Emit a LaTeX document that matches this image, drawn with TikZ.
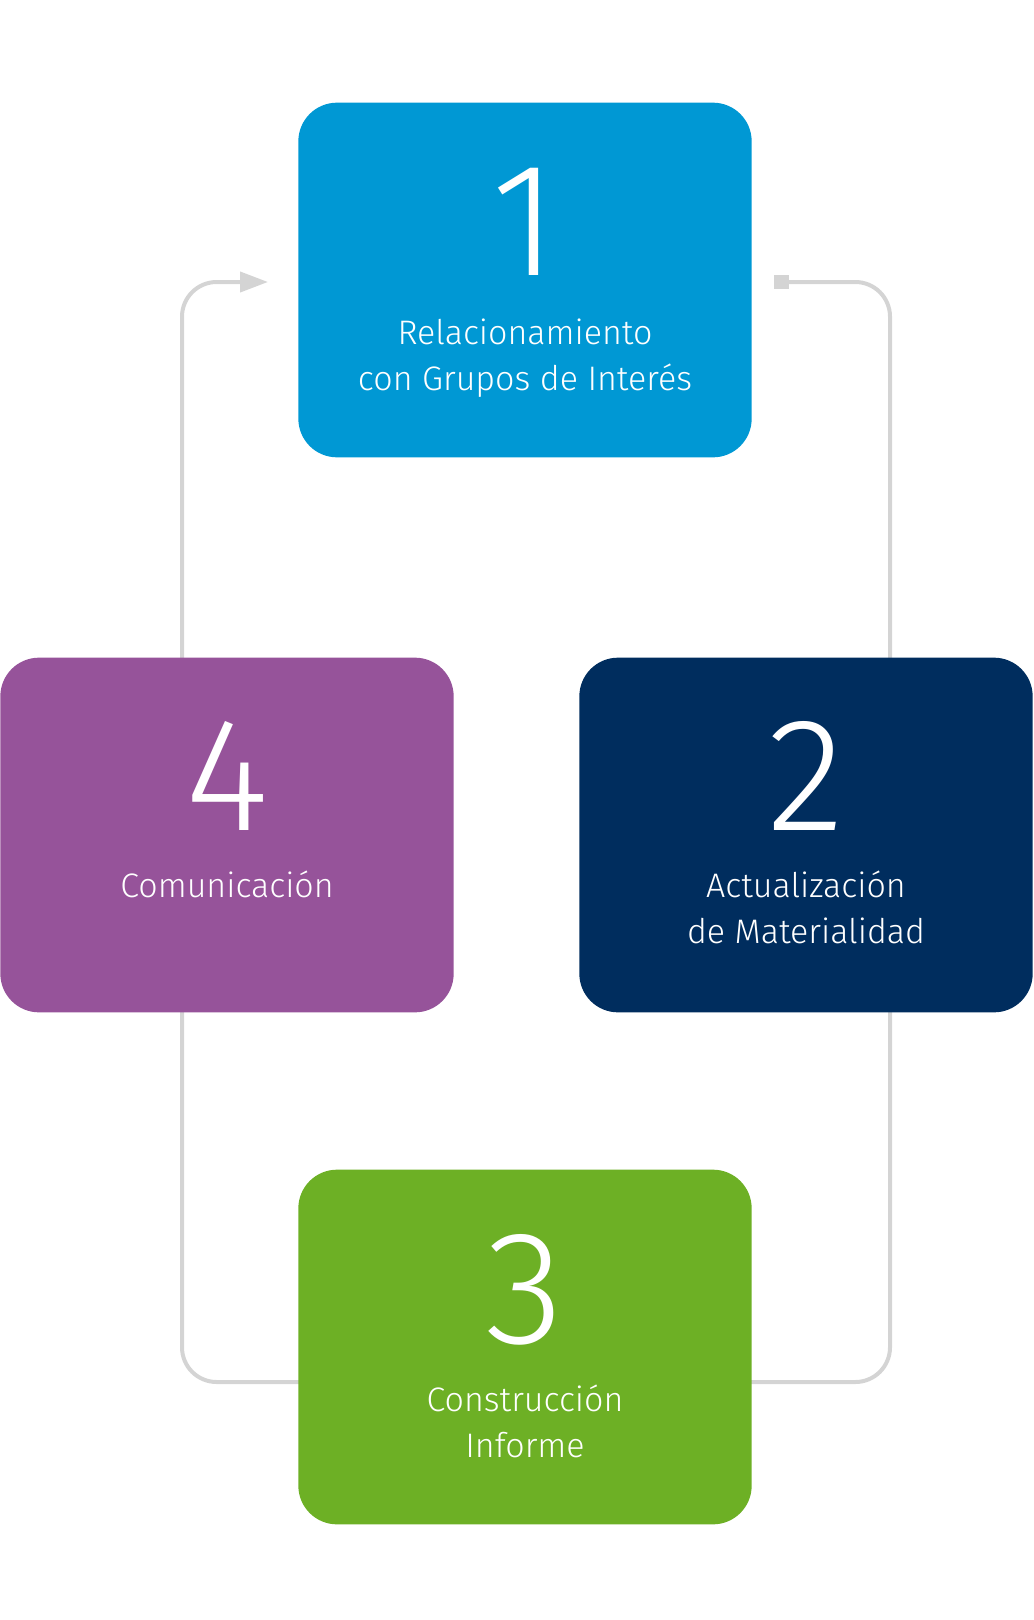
\documentclass[tikz,border=0pt]{standalone}
\usepackage{fontspec}
\setmainfont{Fira Sans}[UprightFont={* Light}]
\newfontfamily\numfont{Fira Sans}[UprightFont={* Light}]
\usetikzlibrary{positioning, arrows.meta}

\definecolor{stepblue}{HTML}{0098D4}
\definecolor{stepnavy}{HTML}{002D5E}
\definecolor{stepgreen}{HTML}{6DB025}
\definecolor{steppurple}{HTML}{96539A}
\definecolor{loopgray}{HTML}{D4D4D4}

\begin{document}
\begin{tikzpicture}[x=0.75pt, y=-0.75pt,
    % Styles
    stepbox/.style={rounded corners=29pt, minimum width=340pt, minimum height=266pt, inner sep=0pt},
    number/.style={text=white, font=\numfont\fontsize{121}{121}\selectfont, inner sep=0pt, anchor=base},
    label/.style={text=white, font=\fontsize{25.5}{34}\selectfont, align=center, inner sep=0pt, anchor=base},
    loop-line/.style={draw=loopgray, line width=3pt, rounded corners=26pt},
]
\useasboundingbox (0,0) rectangle (1034,1620);

% Loop behind the boxes
\coordinate (loopstart) at (774,282);
\coordinate (loopend) at (268,282);
\draw[loop-line, {Square[length=11pt, width=11pt]}-{Triangle[length=21pt, width=15pt]}]
    (loopstart) -- (890,282) -- (890,1382) -- (182,1382) -- (182,282) -- (loopend);

% Step 1
\node[stepbox, fill=stepblue] (box1) at (525,280) {};
\node[number] (num1) at (525,275) {1};
\node[label] (txt1) at (525,390) {Relacionamiento\\con Grupos de Interés};

% Step 2
\node[stepbox, fill=stepnavy] (box2) at (806,835) {};
\node[number] (num2) at (806,830) {2};
\node[label] (txt2) at (806,943) {Actualización\\de Materialidad};

% Step 3
\node[stepbox, fill=stepgreen] (box3) at (525,1347) {};
\node[number] (num3) at (525,1343) {3};
\node[label] (txt3) at (525,1457) {Construcción\\Informe};

% Step 4
\node[stepbox, fill=steppurple] (box4) at (227,835) {};
\node[number] (num4) at (227,830) {4};
\node[label] (txt4) at (227,897) {Comunicación};

\end{tikzpicture}
\end{document}
